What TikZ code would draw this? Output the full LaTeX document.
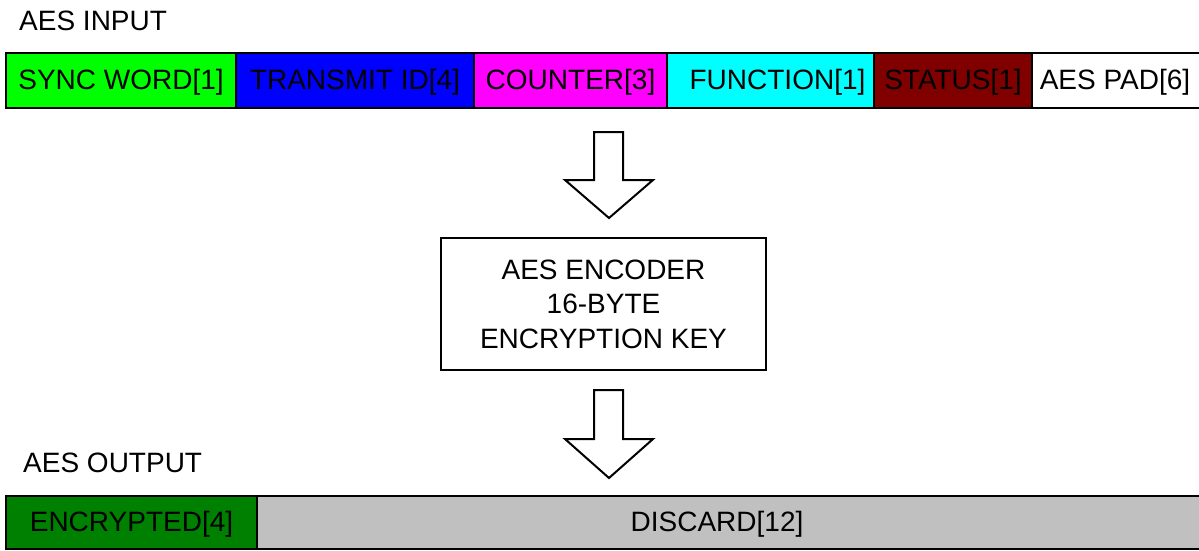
\documentclass[tikz,border=0pt]{standalone}
\usepackage{fontspec}
\setmainfont{Liberation Sans}
\definecolor{syncgreen}{HTML}{00FF00}
\definecolor{idblue}{HTML}{0000FF}
\definecolor{cntmagenta}{HTML}{FF00FF}
\definecolor{fncyan}{HTML}{00FFFF}
\definecolor{stmaroon}{HTML}{800000}
\definecolor{encgreen}{HTML}{008000}
\definecolor{discgray}{HTML}{C0C0C0}
\begin{document}
\begin{tikzpicture}[x=1pt,y=-1pt,
  txt/.style={font=\fontsize{28}{34.5}\selectfont, text=black},
  field/.style={txt, draw=black, line width=2.5pt, inner sep=0pt, outer sep=0pt, anchor=north west, minimum height=55pt, text depth=7pt, text height=25pt},
  outfield/.style={field, minimum height=53pt},
  label/.style={txt, anchor=base west, inner sep=0pt},
  blockarrow/.style={draw=black, fill=white, line width=2pt, line join=miter},
  encoder/.style={txt, draw=black, line width=2pt, align=center, minimum width=325pt, minimum height=132pt, inner sep=0pt}]
\useasboundingbox (0,0) rectangle (1199,550);

% input frame
\node[label] (inlbl) at (19,30) {AES INPUT};
\node[field, fill=syncgreen, minimum width=230pt] (sync) at (6,53) {SYNC WORD[1]};
\node[field, fill=idblue, minimum width=238pt] (tid) at (sync.north east) {TRANSMIT ID[4]};
\node[field, fill=cntmagenta, minimum width=193pt] (cnt) at (tid.north east) {COUNTER[3]};
\node[field, fill=fncyan, minimum width=207pt] (fn) at (cnt.north east) {\kern14pt FUNCTION[1]};
\node[field, fill=stmaroon, minimum width=158pt] (st) at (fn.north east) {STATUS[1]};
\node[field, fill=white, minimum width=172pt] (pad) at (st.north east) {AES PAD[6]\kern6pt};

% encoder
\node[encoder] (enc) at (603.5,304) {AES ENCODER\\16-BYTE\\ENCRYPTION KEY};

% block arrows
\draw[blockarrow] (594,132) -- (623,132) -- (623,180) -- (653,180) -- (609,218) -- (565,180) -- (594,180) -- cycle;
\draw[blockarrow] (594,390) -- (623,390) -- (623,439) -- (653,439) -- (609,478) -- (565,439) -- (594,439) -- cycle;

% output frame
\node[label] (outlbl) at (23,472) {AES OUTPUT};
\node[outfield, fill=encgreen, minimum width=251pt] (encr) at (6,496) {ENCRYPTED[4]};
\node[outfield, fill=discgray, minimum width=946pt] (disc) at (encr.north east) {DISCARD[12]\kern26pt};
\end{tikzpicture}
\end{document}
